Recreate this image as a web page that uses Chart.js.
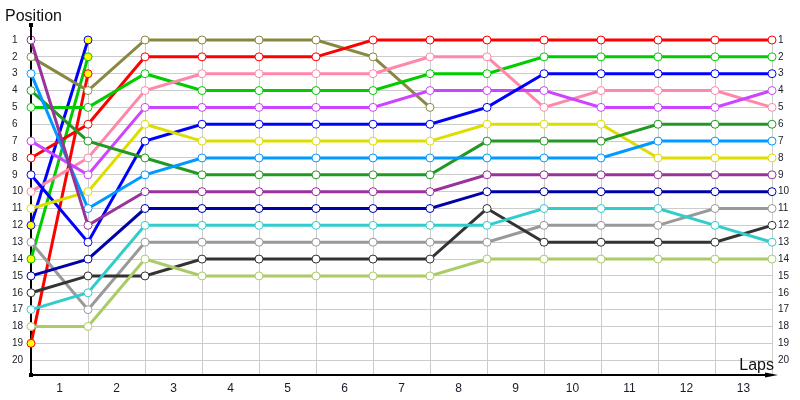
<!DOCTYPE html>
<html>
<head>
<meta charset="utf-8">
<script src="https://cdn.jsdelivr.net/npm/chart.js@4/dist/chart.umd.min.js"></script>
<style>
  body { margin: 0; background: #fff; }
  canvas { display: block; }
</style>
</head>
<body>
<canvas id="race-chart" width="800" height="400"></canvas>
<script>
// Point slots: 0 is the grid, then the end of each lap
const laps = ['0', '1', '2', '3', '4', '5', '6', '7', '8', '9', '10', '11', '12', '13'];
const lapLabels = ['1', '2', '3', '4', '5', '6', '7', '8', '9', '10', '11', '12', '13'];
const positions = [1, 2, 3, 4, 5, 6, 7, 8, 9, 10, 11, 12, 13, 14, 15, 16, 17, 18, 19, 20];

// Position of each car at every point slot
const purple = [1, 12, 10, 10, 10, 10, 10, 10, 9, 9, 9, 9, 9, 9];
const olive = [2, 4, 1, 1, 1, 1, 2, 5];
const lightBlue = [3, 11, 9, 8, 8, 8, 8, 8, 8, 8, 8, 7, 7, 7];
const darkGreen = [4, 7, 8, 9, 9, 9, 9, 9, 7, 7, 7, 6, 6, 6];
const green = [5, 5, 3, 4, 4, 4, 4, 3, 3, 2, 2, 2, 2, 2];
const violet = [7, 9, 5, 5, 5, 5, 5, 4, 4, 4, 5, 5, 5, 4];
const red = [8, 6, 2, 2, 2, 2, 1, 1, 1, 1, 1, 1, 1, 1];
const blue = [9, 13, 7, 6, 6, 6, 6, 6, 5, 3, 3, 3, 3, 3];
const pink = [10, 8, 4, 3, 3, 3, 3, 2, 2, 5, 4, 4, 4, 5];
const yellow = [11, 10, 6, 7, 7, 7, 7, 7, 6, 6, 6, 8, 8, 8];
const gray = [13, 17, 13, 13, 13, 13, 13, 13, 13, 12, 12, 12, 11, 11];
const navy = [15, 14, 11, 11, 11, 11, 11, 11, 10, 10, 10, 10, 10, 10];
const black = [16, 15, 15, 14, 14, 14, 14, 14, 11, 13, 13, 13, 13, 12];
const cyan = [17, 16, 12, 12, 12, 12, 12, 12, 12, 11, 11, 11, 12, 13];
const lightGreen = [18, 18, 14, 15, 15, 15, 15, 15, 14, 14, 14, 14, 14, 14];

// The three cars with yellow markers only run the first lap
const blueOut = [12, 1];
const greenOut = [14, 2];
const redOut = [19, 3];

const tickFont = { family: '"Liberation Sans", Arial, sans-serif', size: 10 };
const tickColor = '#1a1a2a';

function series(data, color, fill) {
  return {
    data: data,
    borderColor: color,
    backgroundColor: color,
    pointBackgroundColor: fill || '#ffffff',
    pointBorderColor: color,
    pointBorderWidth: 1,
    pointRadius: 4,
    borderWidth: 3,
    tension: 0,
    clip: false,
  };
}

// Axis ends, the arrow on the lap axis and the two axis titles
const axisDecor = {
  id: 'axisDecor',
  afterDraw(chart) {
    const { ctx, chartArea } = chart;
    const { left, right, top, bottom } = chartArea;
    ctx.save();
    ctx.strokeStyle = '#000';
    ctx.fillStyle = '#000';
    ctx.lineWidth = 2;

    ctx.beginPath();
    ctx.moveTo(left, top);
    ctx.lineTo(left, 25);
    ctx.stroke();
    ctx.fillRect(left - 2, 23, 4, 4);
    ctx.fillRect(left - 2, bottom - 2, 4, 4);

    ctx.beginPath();
    ctx.moveTo(right, bottom);
    ctx.lineTo(right + 1, bottom);
    ctx.stroke();
    ctx.beginPath();
    ctx.moveTo(right - 7, bottom - 2.5);
    ctx.lineTo(right + 6, bottom);
    ctx.lineTo(right - 7, bottom + 2.5);
    ctx.closePath();
    ctx.fill();

    ctx.fillStyle = '#111';
    ctx.font = '16px "Liberation Sans", Arial, sans-serif';
    ctx.textBaseline = 'alphabetic';
    ctx.textAlign = 'left';
    ctx.fillText('Position', 5, 21);
    ctx.textAlign = 'right';
    ctx.fillText('Laps', 774, 370);
    ctx.restore();
  },
};

const config = {
  type: 'line',
  data: {
    labels: laps,
    datasets: [
      series(lightGreen, '#aacc66'),
      series(cyan, '#33cccc'),
      series(black, '#333333'),
      series(navy, '#0000aa'),
      series(gray, '#999999'),
      series(purple, '#993399'),
      series(lightBlue, '#0099ff'),
      series(darkGreen, '#229922'),
      series(yellow, '#dddd00'),
      series(blue, '#0000ff'),
      series(violet, '#cc44ff'),
      series(pink, '#ff88aa'),
      series(green, '#00cc00'),
      series(red, '#ff0000'),
      series(olive, '#888844'),
      series(redOut, '#ff0000', '#ffff00'),
      series(greenOut, '#00cc00', '#ffff00'),
      series(blueOut, '#0000ff', '#ffff00'),
    ],
  },
  options: {
    responsive: false,
    animation: false,
    layout: {
      padding: { top: 40, left: 12, right: 0, bottom: 0 },
    },
    plugins: {
      legend: { display: false },
      tooltip: { enabled: false },
      title: { display: false },
    },
    scales: {
      x: {
        type: 'category',
        offset: false,
        grid: { color: '#cccccc', drawTicks: false },
        border: { display: true, color: '#000', width: 2 },
        ticks: { display: false },
        afterFit: (scale) => {
          scale.height = 0;
        },
      },
      lap: {
        type: 'category',
        labels: lapLabels,
        position: 'bottom',
        offset: true,
        grid: { display: false, drawTicks: false },
        border: { display: false },
        ticks: {
          padding: 6,
          autoSkip: false,
          maxRotation: 0,
          color: tickColor,
          font: { family: tickFont.family, size: 12 },
        },
        afterFit: (scale) => {
          scale.height = 25;
        },
      },
      y: {
        type: 'linear',
        position: 'left',
        reverse: true,
        min: 1,
        max: 20.88,
        afterBuildTicks: (scale) => {
          scale.ticks = positions.map((v) => ({ value: v }));
        },
        grid: { color: '#cccccc', drawTicks: false },
        border: { display: true, color: '#000', width: 2 },
        ticks: {
          crossAlign: 'far',
          padding: 8,
          color: tickColor,
          font: tickFont,
        },
        afterFit: (scale) => {
          scale.width = 19;
        },
      },
      y2: {
        type: 'linear',
        position: 'right',
        reverse: true,
        min: 1,
        max: 20.88,
        afterBuildTicks: (scale) => {
          scale.ticks = positions.map((v) => ({ value: v }));
        },
        grid: { display: false, drawTicks: false },
        border: { display: false },
        ticks: {
          crossAlign: 'near',
          padding: 6,
          color: tickColor,
          font: tickFont,
        },
        afterFit: (scale) => {
          scale.width = 28;
        },
      },
    },
  },
  plugins: [axisDecor],
};

window.raceChart = new Chart(document.getElementById('race-chart'), config);
</script>
</body>
</html>
